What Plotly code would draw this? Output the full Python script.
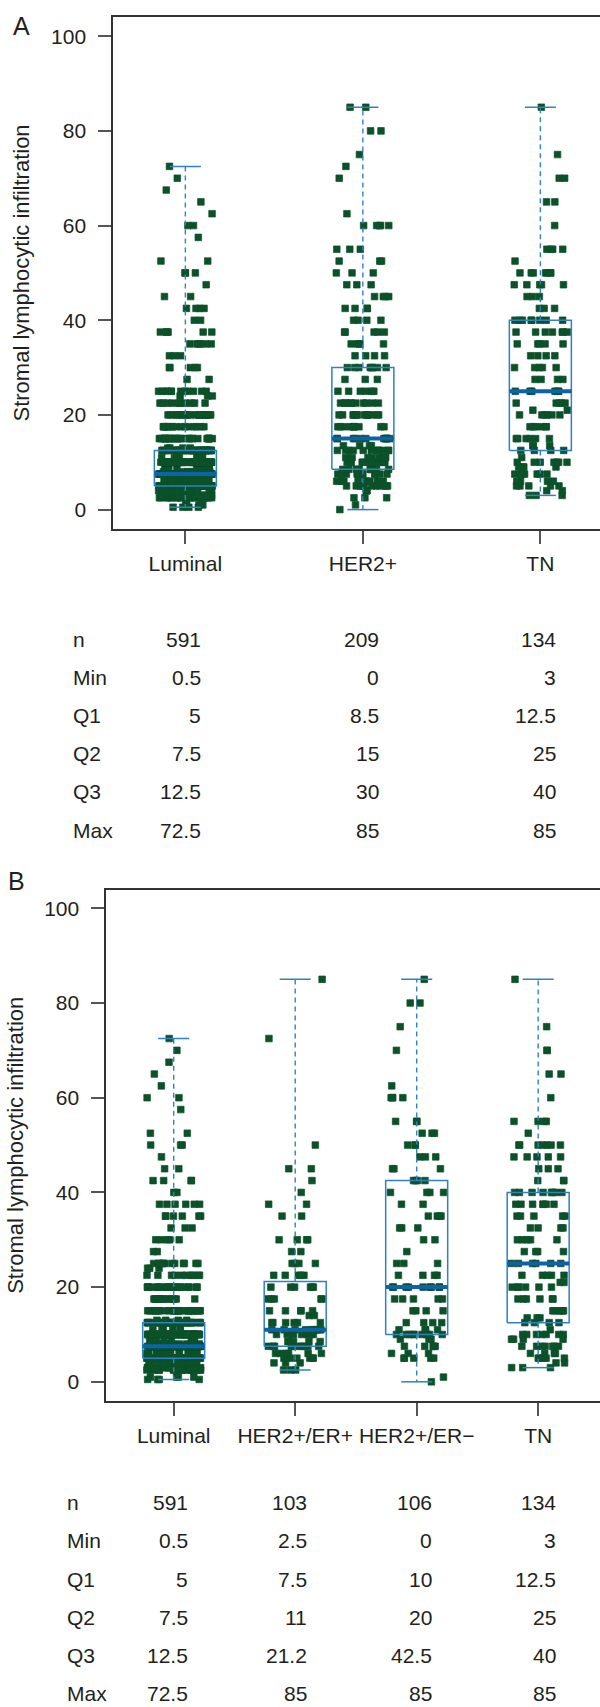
import math
import plotly.graph_objects as go

# ---------------- data ----------------
cats_a = ["Luminal", "HER2+", "TN"]
cats_b = ["Luminal", "HER2+/ER+", "HER2+/ER\u2212", "TN"]
row_names = ["n", "Min", "Q1", "Q2", "Q3", "Max"]

n_a = [591, 209, 134]
min_a = [0.5, 0, 3]
q1_a = [5, 8.5, 12.5]
q2_a = [7.5, 15, 25]
q3_a = [12.5, 30, 40]
max_a = [72.5, 85, 85]

n_b = [591, 103, 106, 134]
min_b = [0.5, 2.5, 0, 3]
q1_b = [5, 7.5, 10, 12.5]
q2_b = [7.5, 11, 20, 25]
q3_b = [12.5, 21.2, 42.5, 40]
max_b = [72.5, 85, 85, 85]

# observed infiltration levels and how many cases sit at each (read from the dot clouds)
lum_levels = [0.5, 1, 2.5, 3, 4, 5, 6, 7.5, 8, 9, 10, 11, 12.5, 13, 15, 17.5, 20, 22.5, 24, 25,
              27.5, 30, 32.5, 35, 37.5, 40, 42.5, 45, 47.5, 50, 52.5, 57.5, 60, 62.5, 65, 67.5, 70, 72.5]
lum_counts = [4, 4, 22, 28, 18, 95, 18, 110, 12, 8, 80, 6, 45, 4, 32, 16, 20, 10, 3, 12,
              2, 5, 3, 6, 6, 2, 4, 2, 1, 3, 2, 1, 2, 1, 1, 1, 1, 1]

her2_levels = [0, 1, 2.5, 4, 5, 6, 7.5, 8.5, 10, 11, 12.5, 13.5, 15, 17.5, 20, 22.5, 25, 27.5, 30,
               32.5, 35, 37.5, 40, 42.5, 45, 47.5, 50, 52.5, 55, 60, 62.5, 70, 72.5, 75, 80, 85]
her2_counts = [1, 1, 3, 4, 12, 10, 14, 10, 16, 8, 12, 4, 12, 10, 14, 10, 6, 3, 8,
               4, 5, 5, 4, 4, 4, 3, 3, 3, 3, 5, 1, 1, 1, 1, 2, 2]

tn_levels = [3, 4, 5, 6, 7.5, 9, 10, 11, 12.5, 13.5, 15, 17.5, 20, 21, 22.5, 25, 27.5, 30, 32.5,
             35, 37.5, 40, 42.5, 45, 47.5, 50, 52.5, 55, 60, 65, 70, 75, 85]
tn_counts = [3, 2, 5, 4, 7, 4, 7, 1, 4, 3, 6, 6, 6, 2, 5, 6, 4, 5, 4,
             5, 7, 8, 3, 3, 5, 7, 1, 4, 1, 2, 2, 1, 1]

her2erp_levels = [2.5, 4, 5, 6, 7.5, 8.5, 10, 11, 12.5, 14, 15, 17.5, 20, 22.5, 25, 27.5, 30,
                  35, 37.5, 40, 42.5, 45, 50, 72.5, 85]
her2erp_counts = [3, 3, 7, 6, 10, 5, 9, 10, 6, 2, 5, 5, 6, 5, 4, 2, 4,
                  2, 2, 1, 1, 2, 1, 1, 1]

her2ern_levels = [0, 1, 5, 6, 7.5, 9, 10, 11, 12.5, 15, 17.5, 20, 22.5, 25, 27.5, 30, 32.5, 35,
                  37.5, 40, 42.5, 45, 47.5, 50, 52.5, 55, 60, 62.5, 70, 75, 80, 85]
her2ern_counts = [1, 1, 5, 3, 5, 3, 10, 4, 4, 4, 5, 9, 4, 3, 1, 2, 3, 4,
                  2, 4, 4, 3, 3, 3, 3, 3, 4, 1, 1, 1, 2, 1]

y_ticks = [0, 20, 40, 60, 80, 100]

# ---------------- style / layout ----------------
W, H = 600, 1707
FONT = "Liberation Sans, Arial, Helvetica, sans-serif"
TXT = "#231f20"
PT = "#0b5129"
BOX = "#2f80c6"
MED = "#0d62ad"
AX = "#333333"


def expand(levels, counts):
    out = []
    for v, c in zip(levels, counts):
        out += [v] * c
    return out


def jit(k, g):
    # deterministic hash in [-0.5, 0.5) used only for horizontal spreading of dots
    s = math.sin(k * 12.9898 + g * 78.233) * 43758.5453
    return (s - math.floor(s)) - 0.5


def py(px):  # pixel row -> paper y
    return 1 - px / H


def px_x(px):
    return px / W


panels = {
    "A": dict(cats=cats_a,
              groups=[(lum_levels, lum_counts), (her2_levels, her2_counts), (tn_levels, tn_counts)],
              stats=[n_a, min_a, q1_a, q2_a, q3_a, max_a],
              xdom=[113.3 / W, 1.0], xr=[0.594, 3.336], ppu=177.5,
              ydom=[py(529), py(16.8)], yr=[-4.1, 104.1],
              xa="x", ya="y"),
    "B": dict(cats=cats_b,
              groups=[(lum_levels, lum_counts), (her2erp_levels, her2erp_counts),
                      (her2ern_levels, her2ern_counts), (tn_levels, tn_counts)],
              stats=[n_b, min_b, q1_b, q2_b, q3_b, max_b],
              xdom=[106.4 / W, 1.0], xr=[0.446, 4.509], ppu=121.5,
              ydom=[py(1401), py(889.6)], yr=[-4.05, 103.95],
              xa="x2", ya="y2"),
}

fig = go.Figure()

for pi, (key, p) in enumerate(panels.items()):
    ppu = p["ppu"]
    amp = 27.0 / ppu     # jitter half-width
    hw = 31.0 / ppu      # box half-width
    cw = 15.5 / ppu      # staple half-width
    # points
    for gi, (lv, ct) in enumerate(p["groups"]):
        ys = expand(lv, ct)
        c = gi + 1
        xs = [c + jit(k + 1, gi + 7 * pi + 1) * 2 * amp for k in range(len(ys))]
        fig.add_trace(go.Scatter(x=xs, y=ys, mode="markers", xaxis=p["xa"], yaxis=p["ya"],
                                 marker=dict(symbol="square", size=6.6, color=PT,
                                             line=dict(width=0.7, color=PT)),
                                 showlegend=False, hoverinfo="y"))
    n_, mn, q1, q2, q3, mx = p["stats"]
    bx, by, wx, wy, sx, sy, mxs, mys = [], [], [], [], [], [], [], []
    for gi in range(len(p["cats"])):
        c = gi + 1
        bx += [c - hw, c + hw, c + hw, c - hw, c - hw, None]
        by += [q1[gi], q1[gi], q3[gi], q3[gi], q1[gi], None]
        wx += [c, c, None, c, c, None]
        wy += [q3[gi], mx[gi], None, q1[gi], mn[gi], None]
        sx += [c - cw, c + cw, None, c - cw, c + cw, None]
        sy += [mx[gi], mx[gi], None, mn[gi], mn[gi], None]
        mxs += [c - hw, c + hw, None]
        mys += [q2[gi], q2[gi], None]
    common = dict(mode="lines", xaxis=p["xa"], yaxis=p["ya"], showlegend=False, hoverinfo="skip")
    fig.add_trace(go.Scatter(x=wx, y=wy, line=dict(color=BOX, width=1.4, dash="5px,4px"), **common))
    fig.add_trace(go.Scatter(x=sx, y=sy, line=dict(color=BOX, width=1.5), **common))
    fig.add_trace(go.Scatter(x=bx, y=by, line=dict(color=BOX, width=1.5), **common))
    fig.add_trace(go.Scatter(x=mxs, y=mys, line=dict(color=MED, width=4), **common))

axis_font = dict(family=FONT, size=21, color=TXT)


def xaxis_cfg(p, anchor):
    return dict(domain=p["xdom"], range=p["xr"], anchor=anchor, tickmode="array",
                tickvals=list(range(1, len(p["cats"]) + 1)), ticktext=p["cats"],
                showline=True, linewidth=2, linecolor=AX, mirror=True, showgrid=False,
                zeroline=False, ticks="outside", ticklen=13, tickwidth=1.5, tickcolor="#555555",
                tickfont=axis_font, ticklabelstandoff=2)


def yaxis_cfg(p, anchor):
    return dict(domain=p["ydom"], range=p["yr"], anchor=anchor, tickmode="array",
                tickvals=y_ticks, showline=True, linewidth=2, linecolor=AX, mirror=False,
                showgrid=False, zeroline=False, ticks="outside", ticklen=13, tickwidth=1.5,
                tickcolor="#555555", tickfont=axis_font, ticklabelstandoff=8)


fig.update_layout(
    width=W, height=H, margin=dict(l=0, r=0, t=0, b=0),
    paper_bgcolor="white", plot_bgcolor="white",
    font=dict(family=FONT, color=TXT, size=21),
    xaxis=xaxis_cfg(panels["A"], "y"), yaxis=yaxis_cfg(panels["A"], "x"),
    xaxis2=xaxis_cfg(panels["B"], "y2"), yaxis2=yaxis_cfg(panels["B"], "x2"),
)

ann = []
# panel letters
ann.append(dict(text="A", x=px_x(21.5), y=py(26), xref="paper", yref="paper", showarrow=False,
                xanchor="center", yanchor="middle", font=dict(family=FONT, size=25, color=TXT)))
ann.append(dict(text="B", x=px_x(16.6), y=py(880.5), xref="paper", yref="paper", showarrow=False,
                xanchor="center", yanchor="middle", font=dict(family=FONT, size=25, color=TXT)))
# y titles
for xc, yc in [(21.8, 272.7), (15.3, 1145.5)]:
    ann.append(dict(text="Stromal lymphocytic infiltration", x=px_x(xc), y=py(yc), xref="paper",
                    yref="paper", showarrow=False, textangle=-90, xanchor="center", yanchor="middle",
                    font=dict(family=FONT, size=22, color=TXT)))

# summary tables
tables = [
    dict(stats=panels["A"]["stats"], label_x=71.0, cols=[203.0, 380.8, 558.4],
         top=638.0),
    dict(stats=panels["B"]["stats"], label_x=64.5, cols=[190.2, 308.5, 433.6, 558.4],
         top=1501.7),
]
ROW_STEP = 38.2
for t in tables:
    for ri, (name, vals) in enumerate(zip(row_names, t["stats"])):
        yy = py(t["top"] + ri * ROW_STEP + 1)
        ann.append(dict(text=name, x=px_x(t["label_x"]), y=yy, xref="paper", yref="paper",
                        showarrow=False, xanchor="left", yanchor="middle",
                        font=dict(family=FONT, size=21, color=TXT)))
        for ci, v in enumerate(vals):
            ann.append(dict(text=f"{v:g}", x=px_x(t["cols"][ci]), y=yy, xref="paper", yref="paper",
                            showarrow=False, xanchor="right", yanchor="middle",
                            font=dict(family=FONT, size=21, color=TXT)))

fig.update_layout(annotations=ann)
fig.write_html("out.html", config={"displayModeBar": False},
               post_script="document.body.style.margin='0';")
